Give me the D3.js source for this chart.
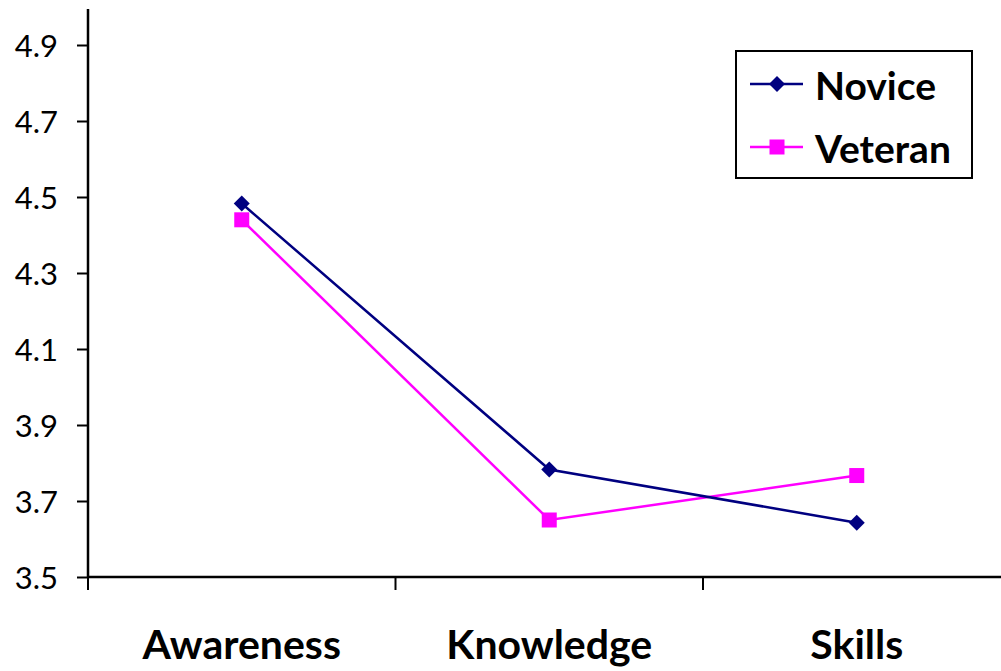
<!DOCTYPE html>
<html>
<head>
<meta charset="utf-8">
<script src="https://cdn.jsdelivr.net/npm/d3@7"></script>
<style>
  html, body { margin: 0; padding: 0; background: #fff; }
  svg { display: block; font-family: Lato, "Open Sans", sans-serif; }
</style>
</head>
<body>
<svg id="chart" width="1001" height="671"></svg>
<script>
// Mean scores by competency area
const categories = ["Awareness", "Knowledge", "Skills"];
const novice = [4.483, 3.783, 3.643];
const veteran = [4.44, 3.65, 3.767];
const yTicks = [3.5, 3.7, 3.9, 4.1, 4.3, 4.5, 4.7, 4.9];
const seriesNames = ["Novice", "Veteran"];

const series = [
  { name: seriesNames[0], values: novice, color: "#000080", shape: "diamond" },
  { name: seriesNames[1], values: veteran, color: "#FF00FF", shape: "square" }
];

const svg = d3.select("#chart");
const plotLeft = 88, plotBottom = 577, plotTop = 9;
const font = "Lato, 'Open Sans', sans-serif";

const x = d3.scaleBand().domain(categories).range([plotLeft, plotLeft + 3 * 307.5]);
const y = d3.scaleLinear().domain([3.5, 4.9]).range([plotBottom, plotBottom - 1.4 * 380]);

// Y axis
const yAxis = svg.append("g").attr("transform", `translate(${plotLeft},0)`)
  .call(d3.axisLeft(y).tickValues(yTicks).tickFormat(d3.format(".1f")).tickSize(11).tickPadding(19));
yAxis.attr("font-family", font);
yAxis.select(".domain").remove();
yAxis.selectAll(".tick line").attr("stroke", "#000").attr("stroke-width", 2);
yAxis.selectAll(".tick text").attr("font-size", 31).attr("fill", "#000").attr("dy", "0.36em");
svg.append("line").attr("x1", plotLeft).attr("x2", plotLeft).attr("y1", plotTop).attr("y2", plotBottom)
  .attr("stroke", "#000").attr("stroke-width", 2.5);

// X axis with boundary ticks between categories
svg.append("line").attr("x1", plotLeft).attr("x2", 1001).attr("y1", plotBottom).attr("y2", plotBottom)
  .attr("stroke", "#000").attr("stroke-width", 2.5);
const bounds = categories.map(c => x(c)).concat([x(categories[2]) + x.bandwidth()]);
svg.append("g").selectAll("line").data(bounds).join("line")
  .attr("x1", d => d).attr("x2", d => d).attr("y1", plotBottom).attr("y2", plotBottom + 13)
  .attr("stroke", "#000").attr("stroke-width", 2);
svg.append("g").selectAll("text").data(categories).join("text")
  .attr("x", d => x(d) + x.bandwidth() / 2).attr("y", 659)
  .attr("text-anchor", "middle").attr("font-size", 41).attr("font-weight", "bold")
  .attr("fill", "#000").text(d => d);

const cx = (d, i) => x(categories[i]) + x.bandwidth() / 2;
const line = d3.line().x(cx).y(d => y(d));

function drawMarker(g, shape, color, px, py) {
  if (shape === "diamond") {
    g.append("path").attr("d", `M${px},${py - 8}L${px + 8},${py}L${px},${py + 8}L${px - 8},${py}Z`)
      .attr("fill", color);
  } else {
    g.append("rect").attr("x", px - 7.5).attr("y", py - 7.5).attr("width", 15).attr("height", 15)
      .attr("fill", color);
  }
}

// Lines and markers; veteran drawn first so novice sits on top
[series[1], series[0]].forEach(s => {
  const g = svg.append("g");
  g.append("path").datum(s.values).attr("d", line)
    .attr("fill", "none").attr("stroke", s.color).attr("stroke-width", 2.5);
  s.values.forEach((v, i) => drawMarker(g, s.shape, s.color, cx(v, i), y(v)));
});

// Legend
const lg = svg.append("g");
lg.append("rect").attr("x", 736).attr("y", 51).attr("width", 236).attr("height", 127)
  .attr("fill", "#fff").attr("stroke", "#000").attr("stroke-width", 2);
series.forEach((s, i) => {
  const ly = 84 + i * 63;
  lg.append("line").attr("x1", 750).attr("x2", 803).attr("y1", ly).attr("y2", ly)
    .attr("stroke", s.color).attr("stroke-width", 2.5);
  drawMarker(lg, s.shape, s.color, 777, ly);
  lg.append("text").attr("x", 815).attr("y", ly + 16).attr("font-size", 39)
    .attr("font-weight", "bold").attr("fill", "#000").text(s.name);
});
</script>
</body>
</html>
